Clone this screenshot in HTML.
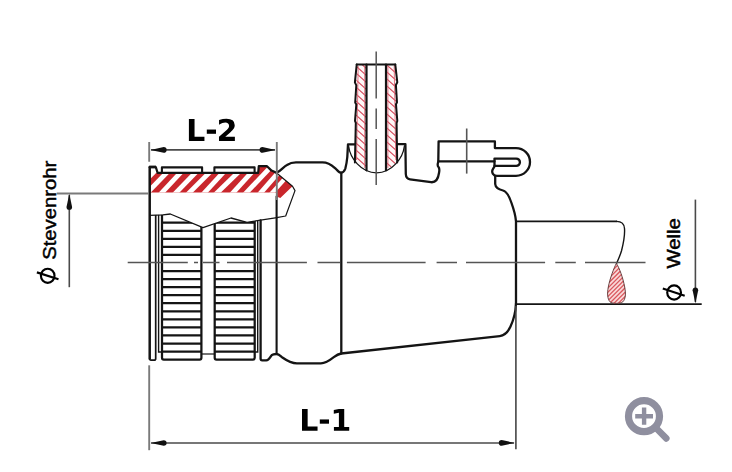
<!DOCTYPE html>
<html><head><meta charset="utf-8"><title>Diagram</title>
<style>html,body{margin:0;padding:0;background:#fff;}body{width:732px;height:472px;overflow:hidden;font-family:"Liberation Sans",sans-serif;}svg{display:block}</style>
</head><body>
<svg width="732" height="472" viewBox="0 0 732 472">
<clipPath id="hc"><polygon points="149.5,172.9 258,172.9 258.6,166 267,166 271,170 276.5,172.8 292.5,186.3 280.3,198 276.5,196.6 276.5,192.5 149.5,192.5"/></clipPath>
<polygon points="149.5,172.9 258,172.9 258.6,166 267,166 271,170 276.5,172.8 292.5,186.3 280.3,198 276.5,196.6 276.5,192.5 149.5,192.5" fill="#c9262c"/>
<g clip-path="url(#hc)" stroke="#fff" stroke-width="4.8">
<line x1="165.41" y1="160" x2="122.73" y2="204" stroke-width="4.8"/>
<line x1="179.01" y1="160" x2="136.33" y2="204" stroke-width="4.8"/>
<line x1="192.28" y1="160" x2="151.36" y2="204" stroke-width="4.8"/>
<line x1="207.71" y1="160" x2="165.03" y2="204" stroke-width="4.8"/>
<line x1="222.00" y1="160" x2="178.00" y2="204" stroke-width="4.8"/>
<line x1="234.65" y1="160" x2="194.17" y2="204" stroke-width="4.8"/>
<line x1="250.89" y1="160" x2="205.57" y2="204" stroke-width="4.8"/>
<line x1="262.82" y1="160" x2="222.78" y2="204" stroke-width="4.8"/>
<line x1="277.44" y1="160" x2="235.64" y2="204" stroke-width="4.8"/>
<line x1="289.41" y1="160" x2="250.91" y2="204" stroke-width="4.8"/>
<line x1="301.69" y1="160" x2="262.09" y2="204" stroke-width="4.2"/>
</g>
<clipPath id="rc"><polygon points="149,215.3 163,214.8 170.3,214 203,227.7 231,218 247,222.3 277,217.6 277,362 149,362"/></clipPath>
<g clip-path="url(#rc)" fill="none" stroke="#141414" stroke-width="2.25">
<rect x="162" y="200" width="39.4" height="159.5" rx="1.8"/>
<rect x="214.7" y="200" width="40" height="159.5" rx="1.8"/>
<path d="M162,222.7H201.4M214.7,222.7H254.7M162,230.8H201.4M214.7,230.8H254.7M162,238.8H201.4M214.7,238.8H254.7M162,246.9H201.4M214.7,246.9H254.7M162,254.9H201.4M214.7,254.9H254.7M162,271.0H201.4M214.7,271.0H254.7M162,279.1H201.4M214.7,279.1H254.7M162,287.1H201.4M214.7,287.1H254.7M162,295.2H201.4M214.7,295.2H254.7M162,303.2H201.4M214.7,303.2H254.7M162,311.3H201.4M214.7,311.3H254.7M162,319.3H201.4M214.7,319.3H254.7M162,327.4H201.4M214.7,327.4H254.7M162,335.4H201.4M214.7,335.4H254.7M162,343.5H201.4M214.7,343.5H254.7M162,351.5H201.4M214.7,351.5H254.7"/>
<path d="M155.7,200V358.4Q155.7,360.2 154,360.2H151.2Q149.6,360.2 149.6,358.4" stroke-width="1.7"/>
<path d="M158.6,200V352H162" stroke-width="1.4"/>
<path d="M257.7,200V352H254.7" stroke-width="1.4"/>
<path d="M201.4,354H214.7" stroke-width="1.2"/>
</g>
<g fill="none" stroke="#141414" stroke-width="2.3" stroke-linejoin="round" stroke-linecap="round">
<path d="M149.7,166.8V359.5" stroke-width="2.5" stroke-linecap="butt"/>
<path d="M149.5,167H155.8L157.6,172.9H258.2L258.8,166.2H267L271.5,170.6L276.5,172.8" stroke-width="2.2"/>
<path d="M149.2,165.6H156V168.4H149.2Z" fill="#141414" stroke="none"/>
<path d="M161.9,172.7V167.4H202.1V172.7M214.4,172.7V167.4H254.6V172.7" stroke-width="2.1"/>
<path d="M276.6,196.6V354" stroke-width="2.1"/>
<path d="M260.6,220.4V358.6Q260.6,360.3 262.2,360.3H266.3C269.3,360.3 270,357 271.7,355.2C273,354 275,354 276.5,354C279,354 280.5,356 282,357.2C286,360 291,363.4 296.9,363.4H320.9C325,363.4 329,361 333.8,357.2C336,355.5 338.5,354 341.2,353.5L499.8,336.1C504,335.6 508,332 510.5,326.5C513.5,320 515.6,313 515.9,304"/>
<path d="M276.5,172.8C281,171 283,167 287,165C290,163 293,162.4 296,162.4H322.5C330,162.4 333,166.5 336.3,169.3C338,171 339.5,172.7 341,172.7C343,172.7 344.6,170.5 345.4,168.3C346.6,164 347,160 347.3,157L348,144.3H354.8"/>
<path d="M341.3,172.6V353.5"/>
<path d="M276.6,173L292.5,186.3L295,190.6L285.7,216L276.6,217.7" stroke-width="1.2"/>
<path d="M149.6,215.3L163,214.8L170.3,214L203,227.7L231,218L247,222.3L277,217.6" stroke-width="1.3"/>
<path d="M397,144.1H405.4L405.8,174C406,177.5 407.5,179 410,179.3L431,182.2C435,182.6 438,180 439,173C439.5,170.5 439.8,168.5 438.5,167C437.3,165.8 437.3,164.5 438.3,161.5L438.6,141.4H494.9V148.1H516A14,13.85 0 0 1 516,175.8H497C493,175.8 491.6,172.3 492.5,170C493.4,168 494.5,167 494.5,165.9"/>
<path d="M438.5,161.3H494.5"/>
<path d="M494.5,158.6H516.3A3.65,3.65 0 0 1 516.3,165.9H494.5Z"/>
<path d="M495.2,176V184C495.5,188 499,189.6 503,190.5C507,191.5 509.5,197 511.5,203C514,210 515.6,216 516,221.3V304"/>
<path d="M516,221.4H617" stroke-width="1.9" stroke-linecap="butt"/>
<path d="M616.5,221.4C621.5,221.4 624.2,224 624.5,228.5C625,235 623,245 621.6,250.5C620,256 618,260 616.6,263.4" stroke-width="1.4"/>
<path d="M516,304.2H701.7" stroke-width="1.7" stroke-linecap="butt"/>
</g>
<clipPath id="bl"><polygon points="356.7,64.6 366.5,64.6 366.5,171 354.9,162"/></clipPath>
<clipPath id="br"><polygon points="386,64.6 395.4,64.6 397.3,162 386,171"/></clipPath>
<polygon points="356.7,64.6 366.5,64.6 366.5,170 354.9,162" fill="#fef8f8"/>
<polygon points="386,64.6 395.4,64.6 397.3,162 386,170" fill="#fef8f8"/>
<g clip-path="url(#bl)" stroke="#d4485a" stroke-width="1.15">
<line x1="352" y1="55.5" x2="368" y2="69.9"/>
<line x1="352" y1="62.5" x2="368" y2="76.9"/>
<line x1="352" y1="69.5" x2="368" y2="83.9"/>
<line x1="352" y1="76.5" x2="368" y2="90.9"/>
<line x1="352" y1="83.5" x2="368" y2="97.9"/>
<line x1="352" y1="90.5" x2="368" y2="104.9"/>
<line x1="352" y1="97.5" x2="368" y2="111.9"/>
<line x1="352" y1="104.5" x2="368" y2="118.9"/>
<line x1="352" y1="111.5" x2="368" y2="125.9"/>
<line x1="352" y1="118.5" x2="368" y2="132.9"/>
<line x1="352" y1="125.5" x2="368" y2="139.9"/>
<line x1="352" y1="132.5" x2="368" y2="146.9"/>
<line x1="352" y1="139.5" x2="368" y2="153.9"/>
<line x1="352" y1="146.5" x2="368" y2="160.9"/>
<line x1="352" y1="153.5" x2="368" y2="167.9"/>
<line x1="352" y1="160.5" x2="368" y2="174.9"/>
<line x1="352" y1="167.5" x2="368" y2="181.9"/>
<line x1="352" y1="174.5" x2="368" y2="188.9"/>
</g>
<g clip-path="url(#br)" stroke="#d4485a" stroke-width="1.15">
<line x1="384" y1="55.5" x2="400" y2="69.9"/>
<line x1="384" y1="62.5" x2="400" y2="76.9"/>
<line x1="384" y1="69.5" x2="400" y2="83.9"/>
<line x1="384" y1="76.5" x2="400" y2="90.9"/>
<line x1="384" y1="83.5" x2="400" y2="97.9"/>
<line x1="384" y1="90.5" x2="400" y2="104.9"/>
<line x1="384" y1="97.5" x2="400" y2="111.9"/>
<line x1="384" y1="104.5" x2="400" y2="118.9"/>
<line x1="384" y1="111.5" x2="400" y2="125.9"/>
<line x1="384" y1="118.5" x2="400" y2="132.9"/>
<line x1="384" y1="125.5" x2="400" y2="139.9"/>
<line x1="384" y1="132.5" x2="400" y2="146.9"/>
<line x1="384" y1="139.5" x2="400" y2="153.9"/>
<line x1="384" y1="146.5" x2="400" y2="160.9"/>
<line x1="384" y1="153.5" x2="400" y2="167.9"/>
<line x1="384" y1="160.5" x2="400" y2="174.9"/>
<line x1="384" y1="167.5" x2="400" y2="181.9"/>
<line x1="384" y1="174.5" x2="400" y2="188.9"/>
</g>
<g fill="none" stroke="#dc6a78" stroke-width="0.9">
<path d="M364.7,66V168M387.9,66V168M358.2,66L356.5,160M394.2,66L395.8,160"/>
</g>
<g fill="none" stroke="#141414" stroke-width="2" stroke-linejoin="round" stroke-linecap="round">
<path d="M356.7,64.6H395.3"/>
<path d="M356.7,64.6L354.9,82.3L356.3,85.3L355.2,102.5L356.3,104.5L355,121L355.8,123L354.9,162.5"/>
<path d="M395.3,64.6L397.3,82.3L395.9,85L397,102.3L396,104.3L397.3,121L396.6,123L397.2,162.5"/>
<path d="M366.5,64.6V170.3M386,64.6V170.3" stroke-width="2.2"/>
<path d="M348.6,146C350,158 361,172.8 376.6,172.8C392,172.8 403,158 404.4,146" stroke-width="1.3"/>
</g>
<clipPath id="td"><path d="M616.3,263.4C614,268 610,278 608.3,287C607,294 607.5,299 610,301.8C612,303.9 620.5,303.9 622.8,301.8C625.6,299 626,294 624.7,287C623,278 619.5,268 616.3,263.4Z"/></clipPath>
<path d="M616.3,263.4C614,268 610,278 608.3,287C607,294 607.5,299 610,301.8C612,303.9 620.5,303.9 622.8,301.8C625.6,299 626,294 624.7,287C623,278 619.5,268 616.3,263.4Z" fill="#f9d9d9"/>
<g clip-path="url(#td)" stroke="#d9565c" stroke-width="1.25">
<line x1="610.0" y1="260" x2="564.0" y2="306"/>
<line x1="614.3" y1="260" x2="568.3" y2="306"/>
<line x1="618.6" y1="260" x2="572.6" y2="306"/>
<line x1="622.9" y1="260" x2="576.9" y2="306"/>
<line x1="627.2" y1="260" x2="581.2" y2="306"/>
<line x1="631.5" y1="260" x2="585.5" y2="306"/>
<line x1="635.8" y1="260" x2="589.8" y2="306"/>
<line x1="640.1" y1="260" x2="594.1" y2="306"/>
<line x1="644.4" y1="260" x2="598.4" y2="306"/>
<line x1="648.7" y1="260" x2="602.7" y2="306"/>
<line x1="653.0" y1="260" x2="607.0" y2="306"/>
<line x1="657.3" y1="260" x2="611.3" y2="306"/>
<line x1="661.6" y1="260" x2="615.6" y2="306"/>
<line x1="665.9" y1="260" x2="619.9" y2="306"/>
<line x1="670.2" y1="260" x2="624.2" y2="306"/>
<line x1="674.5" y1="260" x2="628.5" y2="306"/>
<line x1="678.8" y1="260" x2="632.8" y2="306"/>
</g>
<path d="M616.3,263.4C614,268 610,278 608.3,287C607,294 607.5,299 610,301.8C612,303.9 620.5,303.9 622.8,301.8C625.6,299 626,294 624.7,287C623,278 619.5,268 616.3,263.4Z" fill="none" stroke="#5a3030" stroke-width="0.9"/>
<g fill="none" stroke="#555555" stroke-width="1.45">
<path d="M127.7,262.5H187.8M194,262.5H198M203,262.5H219.5M227,262.5H306.9M317.5,262.5H340M346.9,262.5H425.6M436.6,262.5H457M466,262.5H545.1M555.3,262.5H575.8M585,262.5H645.5"/>
<path d="M376.2,51.5V98.4M376.2,108.6V129M376.2,139.1V185" stroke-width="1.5"/>
<path d="M466.7,128.5V173.6" stroke-width="1.6"/>
</g>
<g fill="none" stroke="#7a7a7a" stroke-width="1.9">
<path d="M149.2,142V161.8M276.8,142V200"/>
<path d="M149.2,365.3V450.2"/>
<path d="M515.9,306V449.3" stroke="#454545" stroke-width="1.6"/>
<path d="M56.7,193.5H148.6"/>
</g>
<g fill="none" stroke="#4a4a4a" stroke-width="1.6">
<path d="M151,149.9H275"/>
<path d="M151,443H514"/>
<path d="M69.3,195V287.2"/>
<path d="M695.4,199.6V302"/>
</g>
<g fill="#111">
<path d="M150.6,149.9L163.7,152.7Q166.6,152.7 166.6,149.9Q166.6,147.1 163.7,147.1Z"/>
<path d="M275.6,149.9L262.5,147.1Q259.6,147.1 259.6,149.9Q259.6,152.7 262.5,152.7Z"/>
<path d="M150.6,443.0L163.7,445.8Q166.6,445.8 166.6,443.0Q166.6,440.2 163.7,440.2Z"/>
<path d="M514.8,442.9L501.7,440.1Q498.8,440.1 498.8,442.9Q498.8,445.7 501.7,445.7Z"/>
<path d="M69.3,193.8L66.5,206.9Q66.5,209.8 69.3,209.8Q72.1,209.8 72.1,206.9Z"/>
<path d="M695.4,303.4L698.2,290.3Q698.2,287.4 695.4,287.4Q692.6,287.4 692.6,290.3Z"/>
</g>
<g font-family="Liberation Sans, sans-serif" fill="#000">
</g>
<path transform="translate(186.15,140.9) scale(0.014648,-0.014648)" d="M188 1493H573V291H1249V0H188Z" fill="#000"/>
<path transform="translate(205.17000000000002,140.3) scale(0.014648,-0.014648)" d="M111 735H739V444H111Z" fill="#000"/>
<path transform="translate(216.5,140.9) scale(0.014648,-0.014648)" d="M598 283H1255V0H170V283L715 764Q788 830 823 893Q858 956 858 1024Q858 1129 787.5 1193Q717 1257 600 1257Q510 1257 403 1218.5Q296 1180 174 1104V1432Q304 1475 431 1497.5Q558 1520 680 1520Q948 1520 1096.5 1402Q1245 1284 1245 1073Q1245 951 1182 845.5Q1119 740 917 563Z" fill="#000"/>
<path transform="translate(299.25,430.8) scale(0.014648,-0.014648)" d="M188 1493H573V291H1249V0H188Z" fill="#000"/>
<path transform="translate(318.17,430.2) scale(0.014648,-0.014648)" d="M111 735H739V444H111Z" fill="#000"/>
<path transform="translate(330.4,430.8) scale(0.014648,-0.014648)" d="M240 266H580V1231L231 1159V1421L578 1493H944V266H1284V0H240Z" fill="#000"/>
<g font-family="Liberation Sans, sans-serif" fill="#000" stroke="#000" stroke-width="0.45">
<text transform="translate(55.5,259.8) rotate(-90)" font-size="17.7" textLength="99" lengthAdjust="spacingAndGlyphs">Stevenrohr</text>
<text transform="translate(679.8,268.5) rotate(-90)" font-size="17.7" textLength="50.4" lengthAdjust="spacingAndGlyphs">Welle</text>
</g>
<g fill="none" stroke="#000" stroke-width="2.15">
<ellipse cx="47.7" cy="275.75" rx="6.8" ry="7.05"/><path d="M58.5,279.2L36.9,272.4"/>
<ellipse cx="674.1" cy="292.45" rx="6.9" ry="7.1"/><path d="M684.7,295.8L662.8,288.4"/>
</g>
<g fill="none" stroke="#8f8f9f" stroke-linecap="round">
<circle cx="644" cy="416.2" r="15.5" stroke-width="7.2" fill="#fff"/>
<path d="M656.5,428.5L666.3,438.4" stroke-width="6.6"/>
<path d="M635.2,416.2H653M644.1,407.6V424.8" stroke-width="4.4" stroke-linecap="butt"/>
</g>
</svg>
</body></html>
